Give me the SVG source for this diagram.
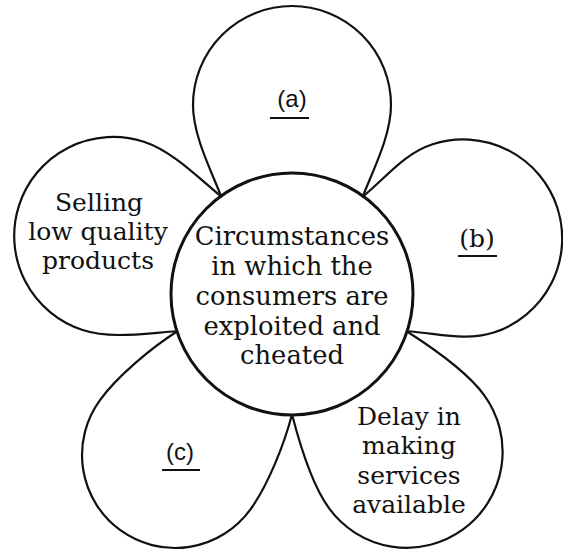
<svg xmlns="http://www.w3.org/2000/svg" width="563" height="550" viewBox="0 0 563 550">
<style>
.petal{fill:#fff;stroke:#111;stroke-width:2.2}
.hub{fill:#fff;stroke:#111;stroke-width:3}
.t{font-family:"DejaVu Serif","Liberation Serif",serif;font-size:25px;fill:#111;text-anchor:middle}
.c{font-size:25.8px}
.s{font-family:"Liberation Sans",Arial,sans-serif;font-size:24px;fill:#111;text-anchor:middle}
.u{stroke:#111;stroke-width:2}
</style>
<rect width="563" height="550" fill="#fff"/>
<g id="petal-a" transform="translate(292 294)">
<path class="petal" d="M -71,-98 C -82,-126 -99,-159 -99,-189 A 99 99 0 0 1 99,-189 C 99,-159 82,-126 71,-98"/>
<text class="s" x="0" y="-187">(a)</text>
<line class="u" x1="-22" y1="-176" x2="17" y2="-176"/>
</g>
<g id="petal-b">
<path class="petal" transform="translate(292 294) rotate(72)" d="M -71,-98 C -82,-126 -99,-150 -99,-180 A 99 99 0 0 1 99,-180 C 99,-150 82,-126 71,-98"/>
<text class="t" x="477" y="247">(b)</text>
<line class="u" x1="458" y1="256" x2="497" y2="256"/>
</g>
<g id="petal-delay">
<path class="petal" transform="translate(292 294) rotate(144)" d="M -71,-98 C -82,-126 -96,-165 -96,-195 A 96 96 0 0 1 96,-195 C 96,-165 82,-126 71,-98"/>
<text class="t" x="409" y="425">Delay in</text>
<text class="t" x="409" y="454">making</text>
<text class="t" x="409" y="484">services</text>
<text class="t" x="409" y="513">available</text>
</g>
<g id="petal-c">
<path class="petal" transform="translate(292 294) rotate(216)" d="M -71,-98 C -82,-126 -93,-169 -93,-199 A 93 93 0 0 1 93,-199 C 93,-169 82,-126 71,-98"/>
<text class="s" x="180" y="460">(c)</text>
<line class="u" x1="162" y1="470" x2="200" y2="470"/>
</g>
<g id="petal-selling">
<path class="petal" transform="translate(292 294) rotate(288)" d="M -71,-98 C -82,-126 -99,-158 -99,-188 A 99 99 0 0 1 99,-188 C 99,-158 82,-126 71,-98"/>
<text class="t" x="99" y="211">Selling</text>
<text class="t" x="98" y="240">low quality</text>
<text class="t" x="98" y="269">products</text>
</g>
<g id="center">
<circle class="hub" cx="292" cy="294" r="121"/>
<text class="t c" x="292" y="245">Circumstances</text>
<text class="t c" x="292" y="275">in which the</text>
<text class="t c" x="292" y="305">consumers are</text>
<text class="t c" x="292" y="335">exploited and</text>
<text class="t c" x="292" y="364">cheated</text>
</g>
<g id="connectors"/>
</svg>
